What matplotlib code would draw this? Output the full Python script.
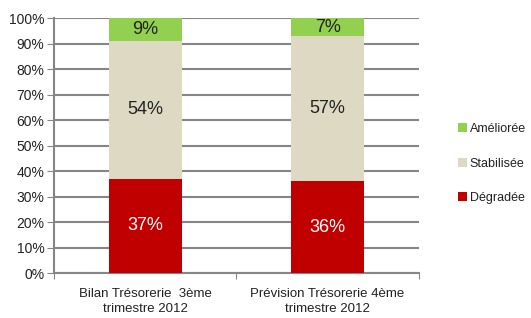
import matplotlib.pyplot as plt
from matplotlib.ticker import MultipleLocator, FuncFormatter

plt.rcParams['font.family'] = ['Liberation Sans Narrow', 'Liberation Sans', 'DejaVu Sans']

categories = ['Bilan Trésorerie  3ème\ntrimestre 2012', 'Prévision Trésorerie 4ème\ntrimestre 2012']
degradee = [37, 36]
stabilisee = [54, 57]
amelioree = [9, 7]

c_deg = '#C00000'
c_stab = '#DDD9C3'
c_ame = '#92D050'

fig = plt.figure(figsize=[5.31, 3.18], dpi=100)
ax = fig.add_axes([0.1017, 0.1415, 0.687, 0.8015])

x = range(len(categories))
w = 0.4
b1 = ax.bar(x, degradee, w, color=c_deg, label='Dégradée', zorder=3)
b2 = ax.bar(x, stabilisee, w, bottom=degradee, color=c_stab, label='Stabilisée', zorder=3)
bottom3 = [d + s for d, s in zip(degradee, stabilisee)]
b3 = ax.bar(x, amelioree, w, bottom=bottom3, color=c_ame, label='Améliorée', zorder=3)

for i in x:
    ax.text(i, degradee[i] / 2, '%d%%' % degradee[i], ha='center', va='center',
            color='white', fontsize=13, zorder=4)
    ax.text(i, degradee[i] + stabilisee[i] / 2, '%d%%' % stabilisee[i], ha='center',
            va='center', color='#222222', fontsize=13, zorder=4)
    ax.text(i, bottom3[i] + amelioree[i] / 2, '%d%%' % amelioree[i], ha='center',
            va='center', color='#222222', fontsize=13, zorder=4)

ax.set_xlim(-0.5, 1.5)
ax.set_ylim(0, 100)
ax.yaxis.set_major_locator(MultipleLocator(10))
ax.yaxis.set_major_formatter(FuncFormatter(lambda v, p: '%d%%' % v))
ax.grid(axis='y', color='#868686', linewidth=1.5, zorder=0)

ax.set_xticks([-0.5, 0.5, 1.5], minor=False)
ax.set_xticklabels([])
ax.set_xticks(list(x), minor=True)
ax.set_xticklabels(categories, minor=True, fontsize=9.5, color='#222222', linespacing=1.35)
ax.tick_params(axis='x', which='minor', length=0, pad=11)
ax.tick_params(axis='x', which='major', length=4, color='#868686')
ax.tick_params(axis='y', length=5, color='#868686', labelsize=10, labelcolor='#222222', pad=2)

for s in ['top', 'right']:
    ax.spines[s].set_visible(False)
for s in ['left', 'bottom']:
    ax.spines[s].set_color('#868686')
    ax.spines[s].set_linewidth(1.5)

handles = [b3, b2, b1]
leg = fig.legend(handles, ['Améliorée', 'Stabilisée', 'Dégradée'], loc='center left',
                 bbox_to_anchor=(0.862, 0.485), frameon=False, fontsize=9,
                 handlelength=0.75, handleheight=0.75, handletextpad=0.2,
                 labelspacing=1.8, labelcolor='#222222', borderpad=0, borderaxespad=0)

plt.savefig('out.png', dpi=100)
